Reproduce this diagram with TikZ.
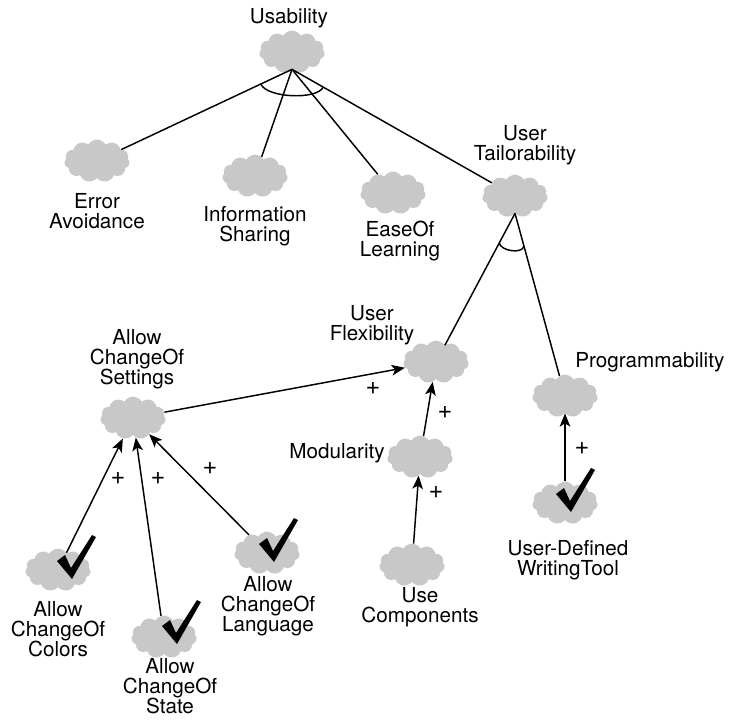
\documentclass[tikz,border=0pt]{standalone}
\usepackage{fontspec}
\setmainfont{TeX Gyre Heros}
\usetikzlibrary{shapes.symbols,arrows.meta,calc}
\definecolor{cloudgray}{HTML}{C8C8C8}
\begin{document}
\begin{tikzpicture}[x=0.75pt,y=-0.75pt,
  cloudnode/.style={cloud, cloud puffs=11, cloud puff arc=120, aspect=1.5, fill=cloudgray, draw=none, minimum width=49pt, minimum height=32pt, inner sep=0pt},
  lbl/.style={align=center, inner sep=0pt, font=\fontsize{15.5}{15}\selectfont},
  plus/.style={inner sep=0pt, font=\fontsize{19}{15}\selectfont},
  link/.style={line width=1.1pt},
  arr/.style={link, -{Stealth[length=10pt,width=8pt,inset=2.5pt]}},
  checkmk/.pic={\fill[black] (-5,-9) -- (3,-15) -- (9,-2) -- (30,-35) -- (34,-33) -- (10,9) -- cycle;}
]
\fill[white] (0,0) rectangle (742,720);
\useasboundingbox (0,0) rectangle (742,720);

% clouds
\node[cloudnode] (c_usab) at (292,52) {};
\node[cloudnode] (c_ea) at (97,161) {};
\node[cloudnode] (c_info) at (255,176) {};
\node[cloudnode] (c_ease) at (393,193) {};
\node[cloudnode] (c_ut) at (515,196) {};
\node[cloudnode] (c_flex) at (436,362) {};
\node[cloudnode] (c_prog) at (565,396) {};
\node[cloudnode] (c_set) at (133,418) {};
\node[cloudnode] (c_mod) at (420,457) {};
\node[cloudnode] (c_use) at (412,565) {};
\node[cloudnode] (c_ud) at (565,503) {};
\node[cloudnode] (c_col) at (58,570) {};
\node[cloudnode] (c_state) at (164,637) {};
\node[cloudnode] (c_lang) at (267,553) {};

% labels
\node[lbl] (t_usab) at (289,18) {Usability};
\node[lbl] (t_ea) at (97,211) {Error\\Avoidance};
\node[lbl] (t_info) at (255,226) {Information\\Sharing};
\node[lbl] (t_ease) at (400,241) {EaseOf\\Learning};
\node[lbl] (t_ut) at (525,145) {User\\Tailorability};
\node[lbl] (t_flex) at (372,325) {User\\Flexibility};
\node[lbl, anchor=west] (t_prog) at (575,362) {Programmability};
\node[lbl] (t_set) at (137,359) {Allow\\ChangeOf\\Settings};
\node[lbl, anchor=east] (t_mod) at (385,453) {Modularity};
\node[lbl] (t_use) at (420,607) {Use\\Components};
\node[lbl] (t_ud) at (568,560) {User-Defined\\WritingTool};
\node[lbl] (t_col) at (58,629) {Allow\\ChangeOf\\Colors};
\node[lbl] (t_state) at (170,686) {Allow\\ChangeOf\\State};
\node[lbl] (t_lang) at (268,606) {Allow\\ChangeOf\\Language};

% AND links
\draw[link] (c_usab.south) -- (c_ea);
\draw[link] (c_usab.south) -- (c_info);
\draw[link] (c_usab.south) -- (c_ease);
\draw[link] (c_usab.south) -- (c_ut);
\coordinate (ua) at ($(c_usab.south)!0.16!(c_ea.center)$);
\coordinate (ub) at ($(c_usab.south)!0.14!(c_ut.center)$);
\draw[link] (ua) .. controls +(6,14) and +(-6,13) .. (ub);

\draw[link] (c_ut.south) -- (c_flex);
\draw[link] (c_ut.south) -- (c_prog);
\coordinate (ta) at ($(c_ut.south)!0.2!(c_flex.center)$);
\coordinate (tb) at ($(c_ut.south)!0.18!(c_prog.center)$);
\draw[link] (ta) .. controls +(2,8) and +(-2,8) .. (tb);

% contributions
\draw[arr] (c_set) -- (c_flex);
\draw[arr] (c_mod) -- (c_flex);
\draw[arr] (c_use) -- (c_mod);
\draw[arr] (c_ud) -- (c_prog);
\draw[arr] (c_col) -- (c_set);
\draw[arr] (c_state) -- (c_set);
\draw[arr] (c_lang) -- (c_set);

% plus signs
\node[plus] (p1) at (373,388) {+};
\node[plus] (p2) at (445,412) {+};
\node[plus] (p3) at (436,492) {+};
\node[plus] (p4) at (582,448) {+};
\node[plus] (p5) at (118,478) {+};
\node[plus] (p6) at (158,478) {+};
\node[plus] (p7) at (210,468) {+};

% satisficed marks
\pic at ($(c_lang)+(-3,0)$) {checkmk};
\pic at ($(c_col)+(4,0)$) {checkmk};
\pic at ($(c_state)+(3,-2)$) {checkmk};
\pic at ($(c_ud)+(-4,0)$) {checkmk};
\end{tikzpicture}
\end{document}
